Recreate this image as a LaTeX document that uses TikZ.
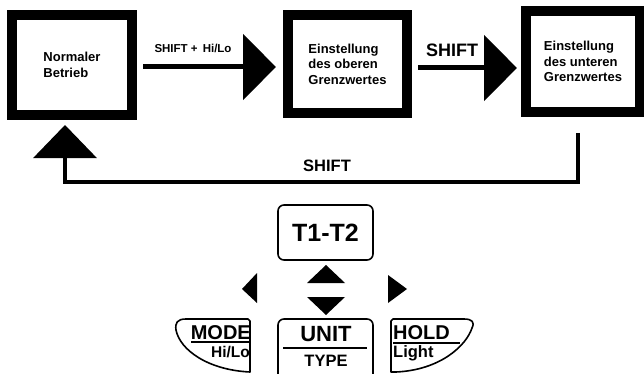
\documentclass[tikz,border=0pt]{standalone}
\usepackage{fontspec}
\setmainfont{Liberation Sans}
\usetikzlibrary{arrows.meta}
\begin{document}
\begin{tikzpicture}[x=1pt,y=-1pt,
  stbox/.style={draw, line width=10pt, inner sep=0pt, align=left,
    font=\bfseries\fontsize{13}{15.5}\selectfont},
  bigarr/.style={line width=5pt, -{Triangle[length=33pt,width=65pt]}},
  retarr/.style={line width=3.5pt, -{Triangle[length=33pt,width=63pt]}},
  lbl/.style={inner sep=0pt, font=\bfseries\fontsize{#1}{#1}\selectfont},
  keyline/.style={line width=1.6pt, line join=round},
  keytxt/.style={inner sep=0pt, font=\bfseries\fontsize{#1}{#1}\selectfont},
  tri/.style={fill=black}]
\useasboundingbox (0,0) rectangle (644,374);

% state boxes
\node[stbox, minimum width=120pt, minimum height=100pt] (b1) at (72,65) {Normaler\\Betrieb};
\node[stbox, minimum width=119pt, minimum height=98pt] (b2) at (347.5,64) {Einstellung\\des oberen\\Grenzwertes};
\node[stbox, minimum width=114pt, minimum height=101pt] (b3) at (583,61.5) {Einstellung\\des unteren\\Grenzwertes};

% arrows
\draw[bigarr, shorten <=6pt, shorten >=7pt] ([yshift=-2pt]b1.east) -- ([yshift=-2pt]b1.east -| b2.west);
\draw[bigarr, shorten <=6pt, shorten >=4pt] ([yshift=-4pt]b2.east) -- ([yshift=-4pt]b2.east -| b3.west);
\coordinate (r1) at (578,182);
\coordinate (r2) at (65,182);
\draw[retarr, shorten <=16pt, shorten >=5pt] (b3.south -| r1) -- (r1) -- (r2) -- (b1.south -| r2);

% labels
\node[lbl=11.5] (l1) at (193,48) {SHIFT +\, Hi/Lo};
\node[lbl=18] (l2) at (452,50) {SHIFT};
\node[lbl=16.5] (l3) at (327,166) {SHIFT};

% keypad
\node[draw, keyline, rounded corners=6pt, minimum width=95pt, minimum height=55pt, inner sep=0pt,
  font=\bfseries\fontsize{25}{25}\selectfont] (t12) at (325.5,232.5) {T1-T2};

\fill[tri] (307,283) -- (345,283) -- (326,265) -- cycle;
\fill[tri] (307,297) -- (345,297) -- (326,315) -- cycle;
\fill[tri] (257,273) -- (257,303) -- (242,289) -- cycle;
\fill[tri] (388,275) -- (388,303) -- (407,289) -- cycle;

% MODE button
\draw[keyline] (250,372) -- (250,321) -- (248,319) -- (186,319)
  .. controls (177,319) and (175,323) .. (176,330)
  .. controls (180,350) and (208,370) .. (250,372) -- cycle;
\node[keytxt=20, anchor=east] (mode) at (251,333) {MODE};
\draw[line width=1.2pt] (191,342) -- (250,342);
\node[keytxt=15.5, anchor=east] (hilo) at (250,352) {Hi/Lo};

% UNIT button
\draw[keyline, rounded corners=6pt] (278,374) -- (278,319) -- (373,319) -- (373,374);
\node[keytxt=22] (unit) at (326,334.5) {UNIT};
\draw[line width=1.2pt] (283,348) -- (367,348);
\node[keytxt=16.5] (type) at (326,361) {TYPE};

% HOLD button
\draw[keyline] (391,372) -- (391,321) -- (393,319) -- (464,319)
  .. controls (472,319) and (475,322) .. (472,328)
  .. controls (466,346) and (440,370) .. (396,372) -- cycle;
\node[keytxt=20, anchor=west] (hold) at (393,333) {HOLD};
\draw[line width=1.2pt] (393,343) -- (460,343);
\node[keytxt=16.5, anchor=west] (light) at (393,353) {Light};
\end{tikzpicture}
\end{document}
